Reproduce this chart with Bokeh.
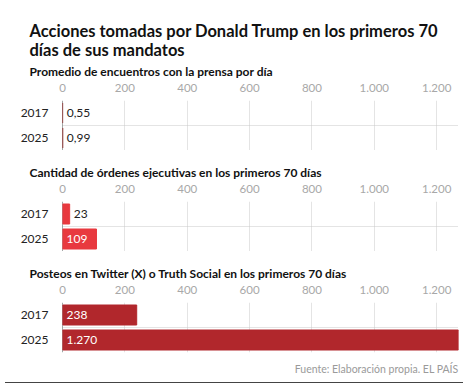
from bokeh.plotting import figure
from bokeh.models import Range1d, FixedTicker, Span, Title, ColumnDataSource, Div
from bokeh.layouts import column
from bokeh.embed import file_html
from bokeh.resources import INLINE
from bokeh.core.properties import value

# ---------------- data ----------------
title_lines = ["Acciones tomadas por Donald Trump en los primeros 70",
               "días de sus mandatos"]
years = ["2017", "2025"]
press_per_day = [0.55, 0.99]
executive_orders = [23, 109]
posts = [238, 1270]
subtitles = ["Promedio de encuentros con la prensa por día",
             "Cantidad de órdenes ejecutivas en los primeros 70 días",
             "Posteos en Twitter (X) o Truth Social en los primeros 70 días"]
press_labels = ["0,55", "0,99"]
orders_labels = ["23", "109"]
posts_labels = ["238", "1.270"]
tick_values = [0, 200, 400, 600, 800, 1000, 1200]
tick_labels = ["0", "200", "400", "600", "800", "1.000", "1.200"]
x_max = 1270
source_text = "Fuente: Elaboración propia. EL PAÍS"

# ---------------- style ----------------
FONT = "Lato"
colors = ["#94403f", "#e8393f", "#b1272c"]
panels = [(press_per_day, press_labels), (executive_orders, orders_labels), (posts, posts_labels)]
tops = [100, 51, 51]


def make_panel(i, vals, labs):
    p = figure(output_backend="svg", toolbar_location=None, title=None,
               x_range=Range1d(0, x_max), y_range=list(reversed(years)),
               frame_width=396, frame_height=50, x_axis_location="above",
               min_border_left=62, min_border_right=8, min_border_top=tops[i],
               min_border_bottom=0, outline_line_color=None)
    p.background_fill_color = "white"
    p.border_fill_color = "white"
    ax = p.xaxis[0]
    ax.ticker = FixedTicker(ticks=tick_values)
    ax.major_label_overrides = {v: l for v, l in zip(tick_values, tick_labels)}
    ax.axis_line_color = None
    ax.major_tick_line_color = None
    ax.minor_tick_line_color = None
    ax.major_label_text_color = "#a8a8a8"
    ax.major_label_text_font = FONT
    ax.major_label_text_font_size = "11.5px"
    ax.major_label_standoff = 3
    ay = p.yaxis[0]
    ay.axis_line_color = None
    ay.major_tick_line_color = None
    ay.minor_tick_line_color = None
    ay.major_label_text_color = "#222222"
    ay.major_label_text_font = FONT
    ay.major_label_text_font_size = "12px"
    ay.major_label_standoff = 8
    p.xgrid.ticker = FixedTicker(ticks=tick_values)
    p.xgrid.grid_line_color = "#e4e4e4"
    p.ygrid.grid_line_color = None

    sep = Span(location=1, dimension="width", line_color="#c8c8c8",
               line_dash="1 1", line_width=1, level="underlay")
    p.add_layout(sep)
    base = Span(location=0, dimension="height", line_color="#4a5050",
                line_width=1, level="underlay")
    p.add_layout(base)

    inside = [v > 0.05 * x_max for v in vals]
    src = ColumnDataSource(dict(
        y=years, v=vals, txt=labs,
        lx=[0 if ins else v for v, ins in zip(vals, inside)],
        tc=["white" if ins else "#222222" for ins in inside]))
    p.hbar(y="y", right="v", left=0, height=0.8, source=src,
           fill_color=colors[i], line_color=colors[i], line_width=1)
    p.text(x="lx", y="y", text="txt", source=src, text_color="tc",
           text_font=value(FONT), text_font_size="12px",
           text_baseline="middle", x_offset=4)

    p.add_layout(Title(text=subtitles[i], align="left", offset=-33,
                       text_font=FONT, text_font_size="12px",
                       text_font_style="bold", text_color="#111111",
                       standoff=3), "above")
    return p


figs = [make_panel(i, v, l) for i, (v, l) in enumerate(panels)]

p1 = figs[0]
p1.add_layout(Title(text=title_lines[1], align="left", offset=-33,
                    text_font=FONT, text_font_size="16.5px",
                    text_font_style="bold", text_color="#111111",
                    standoff=1), "above")
p1.add_layout(Title(text=title_lines[0], align="left", offset=-33,
                    text_font=FONT, text_font_size="16.5px",
                    text_font_style="bold", text_color="#111111",
                    standoff=-7), "above")

p3 = figs[2]
p3.min_border_bottom = 27
p3.add_layout(Title(text=source_text, align="right",
                    text_font=FONT, text_font_size="10.5px",
                    text_font_style="normal", text_color="#9a9a9a",
                    standoff=16), "below")

line = Div(text="", width=458, height=2,
           styles={"border-top": "1.5px solid #444444", "margin-top": "0px"})

layout = column(*figs, line, spacing=0)
open("out.html", "w").write(file_html(layout, INLINE))
